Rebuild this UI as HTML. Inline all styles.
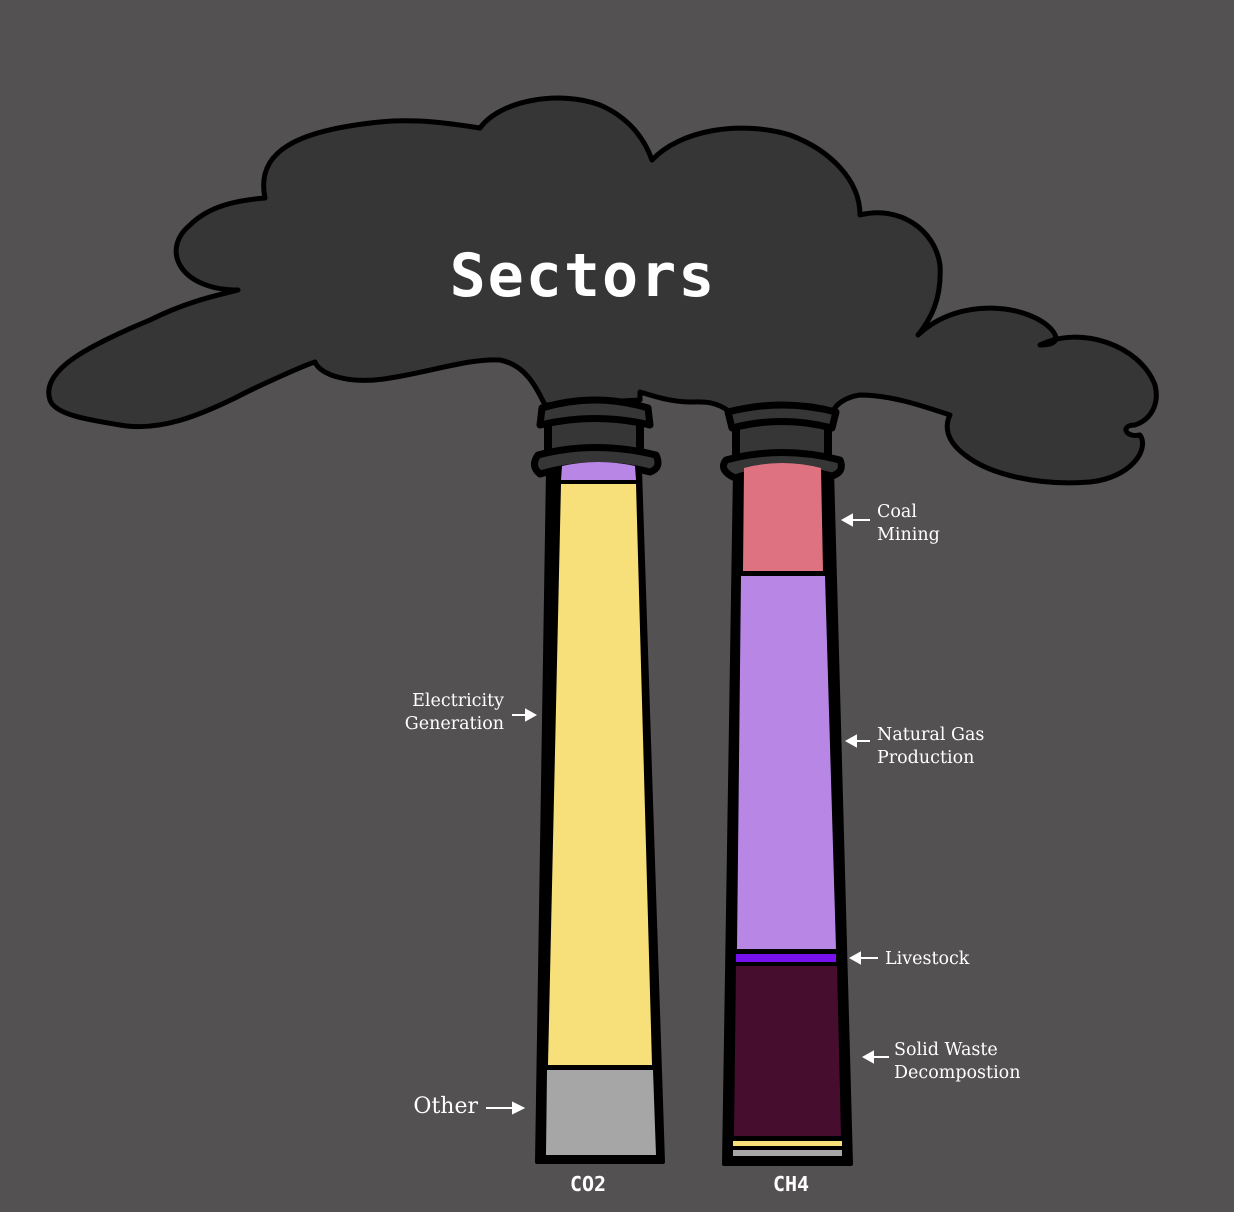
<!DOCTYPE html>
<html><head><meta charset="utf-8"><style>
html,body{margin:0;padding:0;background:#535152;}
svg{display:block}
.l{font-family:"DejaVu Serif","Liberation Serif",serif;font-size:17.5px;fill:#fff}
</style></head><body>
<svg width="1234" height="1212" viewBox="0 0 1234 1212" xmlns="http://www.w3.org/2000/svg">
<rect width="1234" height="1212" fill="#535152"/>
<path d="M50,400 C40,370 90,345 150,320 C190,300 220,295 238,290 C180,290 160,250 190,225 C210,205 240,200 265,198 C255,150 300,130 380,122 C420,118 460,125 480,128 C500,100 560,90 600,105 C630,118 645,140 652,160 C680,130 740,120 790,135 C830,150 860,180 860,215 C900,205 935,230 940,265 C942,300 930,320 918,335 C960,295 1030,305 1052,330 C1060,340 1055,345 1040,345 C1080,325 1140,345 1155,385 C1160,405 1150,420 1135,425 C1120,425 1125,438 1140,435 C1150,450 1130,478 1090,482 C1040,486 990,475 965,455 C945,440 945,425 950,415 C920,405 890,395 860,395 C845,397 835,405 833,412 L730,412 C715,400 700,402 690,402 C670,402 650,395 640,392 L640,400 L545,405 C535,385 525,365 500,360 C470,358 430,372 390,378 C350,385 320,375 315,362 C305,365 260,385 235,398 C200,415 160,432 120,425 C90,420 55,415 50,400 Z" fill="#363636" stroke="#000" stroke-width="5" stroke-linejoin="round"/>
<text x="583" y="296" text-anchor="middle" font-family="DejaVu Sans Mono,Liberation Mono,monospace" font-weight="bold" font-size="60" fill="#fff" letter-spacing="2">Sectors</text>

<g stroke="#000" stroke-linejoin="round">
<path d="M548,470 L640,470 L663,1162 L537,1162 Z" fill="#000" stroke-width="4"/>
<rect x="548" y="415" width="92" height="45" fill="#363636" stroke-width="8"/>
<path d="M542,408 Q595,392 648,408 L650,425 Q595,412 540,425 Z" fill="#363636" stroke-width="7"/>
<path d="M538,455 Q595,440 656,455 Q662,468 650,472 Q595,458 540,474 Q530,466 538,455 Z" fill="#363636" stroke-width="7"/>
</g>
<path d="M562,466 Q598,458 635,466 L636,480 L561,480 Z" fill="#b886e5"/>
<path d="M561,484 L636,484 L652,1065 L548,1065 Z" fill="#f7df79"/>
<path d="M547,1070 L653,1070 L656,1155 L546,1155 Z" fill="#a6a6a6"/>

<g stroke="#000" stroke-linejoin="round">
<path d="M735,470 L832,470 L851,1164 L724,1164 Z" fill="#000" stroke-width="4"/>
<rect x="736" y="420" width="92" height="42" fill="#363636" stroke-width="8"/>
<path d="M728,412 Q782,398 836,412 L832,428 Q782,415 732,428 Z" fill="#363636" stroke-width="7"/>
<path d="M726,460 Q782,445 840,460 Q845,472 832,476 Q782,462 735,478 Q718,470 726,460 Z" fill="#363636" stroke-width="7"/>
</g>
<path d="M744,468 Q782,458 821,468 L823,571 L743,571 Z" fill="#df7280"/>
<path d="M741,576 L825,576 L836,949 L737,949 Z" fill="#b886e5"/>
<rect x="736" y="954" width="100" height="8" fill="#7711ee"/>
<path d="M736,966 L837,966 L841,1136 L734,1136 Z" fill="#470d2f"/>
<rect x="733" y="1141" width="109" height="5" fill="#f7df79"/>
<rect x="733" y="1150" width="109" height="6" fill="#a6a6a6"/>

<text class="l" x="877" y="517">Coal</text>
<text class="l" x="877" y="540">Mining</text>
<text class="l" x="877" y="740">Natural Gas</text>
<text class="l" x="877" y="763">Production</text>
<text class="l" x="885" y="964">Livestock</text>
<text class="l" x="894" y="1055">Solid Waste</text>
<text class="l" x="894" y="1078">Decompostion</text>
<text class="l" x="504" y="706" text-anchor="end">Electricity</text>
<text class="l" x="504" y="729" text-anchor="end">Generation</text>
<text class="l" x="478" y="1113" text-anchor="end" style="font-size:22px">Other</text>
<g stroke="#fff" stroke-width="2" fill="#fff">
<line x1="848" y1="520" x2="870" y2="520"/><path d="M843,520 L852,515 L852,525 Z"/>
<line x1="852" y1="741" x2="870" y2="741"/><path d="M847,741 L856,736 L856,746 Z"/>
<line x1="856" y1="958" x2="878" y2="958"/><path d="M851,958 L860,953 L860,963 Z"/>
<line x1="869" y1="1057" x2="889" y2="1057"/><path d="M864,1057 L873,1052 L873,1062 Z"/>
<line x1="512" y1="715" x2="530" y2="715"/><path d="M535,715 L526,710 L526,720 Z"/>
<line x1="486" y1="1108" x2="516" y2="1108"/><path d="M523,1108 L513,1103 L513,1113 Z"/>
</g>
<text x="588" y="1191" text-anchor="middle" font-family="DejaVu Sans Mono,Liberation Mono,monospace" font-weight="bold" font-size="20" fill="#fff">CO2</text>
<text x="791" y="1191" text-anchor="middle" font-family="DejaVu Sans Mono,Liberation Mono,monospace" font-weight="bold" font-size="20" fill="#fff">CH4</text>
</svg>
</body></html>
